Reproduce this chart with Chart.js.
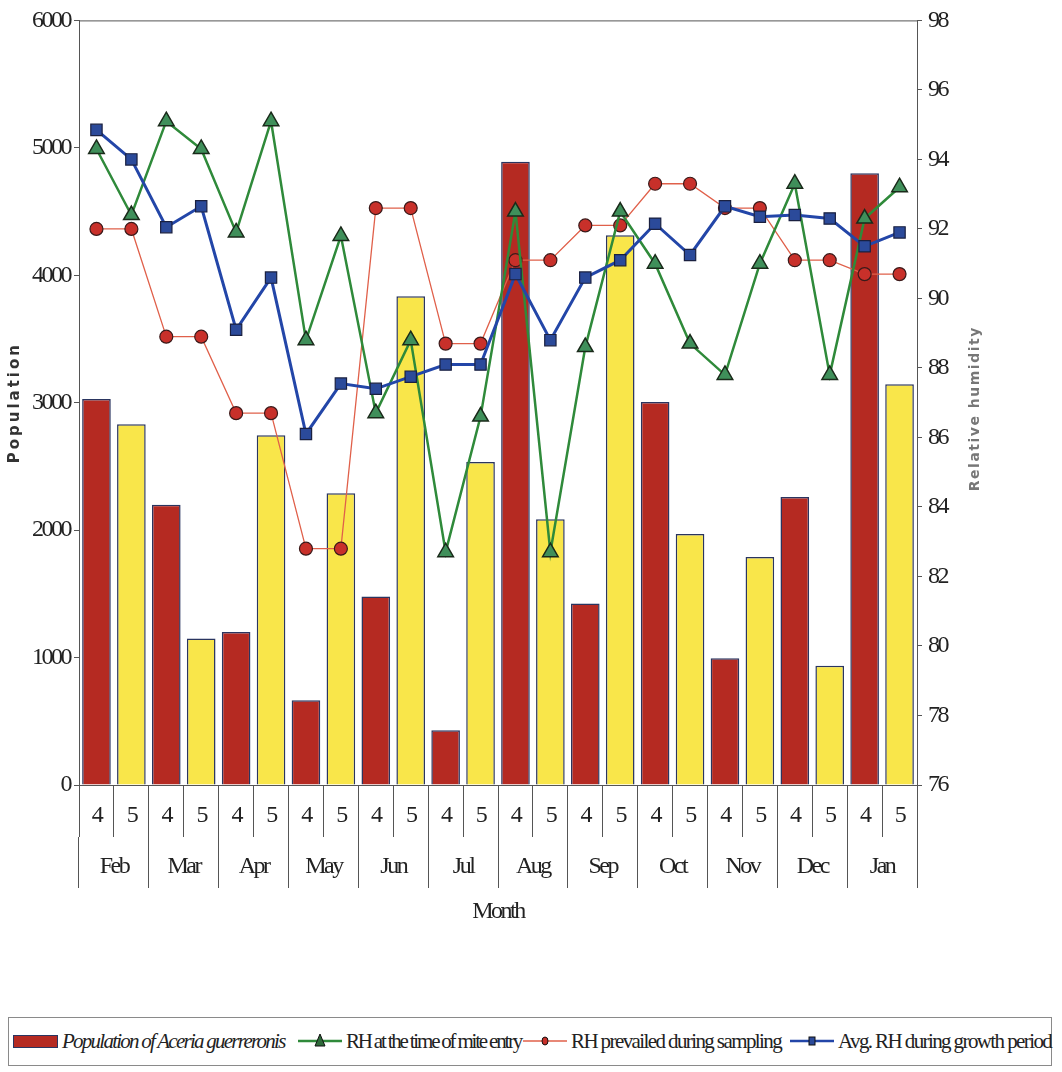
<!DOCTYPE html>
<html lang="en">
<head>
  <meta charset="UTF-8" />
  <title>Population of Aceria guerreronis and relative humidity</title>
  <script src="https://cdn.jsdelivr.net/npm/chart.js"></script>
  <style>
    body {
      margin: 0;
      background: #fff;
    }
    .chart-container {
      position: relative;
      width: 1062px;
      height: 940px;
    }
    .legend {
      position: absolute;
      left: 8px;
      top: 1017px;
      width: 1042px;
      height: 47px;
      border: 1px solid #8a8a8a;
      font-family: 'Liberation Serif', serif;
      font-size: 21px;
      letter-spacing: -1.6px;
      color: #222;
      white-space: nowrap;
    }
    .legend .item {
      position: absolute;
      top: 10px;
      display: flex;
      align-items: center;
      height: 26px;
    }
    .legend svg { margin-right: 3px; }
    .legend .swatch {
      width: 43px;
      height: 11px;
      background: #b52a22;
      border: 1px solid #2a3560;
      margin-right: 4px;
    }
  </style>
</head>
<body>
  <div class="chart-container">
    <canvas id="popChart"></canvas>
  </div>

  <div class="legend">
    <div class="item" style="left:4px; letter-spacing:-1.75px"><span class="swatch"></span><i>Population of Aceria guerreronis</i></div>
    <div class="item" style="left:288px; letter-spacing:-2.2px">
      <svg width="46" height="20"><line x1="1" y1="10" x2="45" y2="10" stroke="#2f8a3a" stroke-width="2.5"/><polygon points="23,3 28,15 18,15" fill="#2f6a3a" stroke="#111" stroke-width="1"/></svg>
      <span>RH at the time of mite entry</span>
    </div>
    <div class="item" style="left:513px">
      <svg width="46" height="20"><line x1="1" y1="10" x2="45" y2="10" stroke="#e0604a" stroke-width="1.5"/><ellipse cx="23" cy="10" rx="3" ry="4" fill="#c8302a" stroke="#111" stroke-width="1"/></svg>
      <span>RH prevailed during sampling</span>
    </div>
    <div class="item" style="left:780px">
      <svg width="46" height="20"><line x1="1" y1="10" x2="45" y2="10" stroke="#2346a8" stroke-width="2.5"/><rect x="20" y="6" width="6" height="8" fill="#2b4a9a" stroke="#111" stroke-width="1"/></svg>
      <span>Avg. RH during growth period</span>
    </div>
  </div>

  <script>
    const months = ['Feb', 'Mar', 'Apr', 'May', 'Jun', 'Jul', 'Aug', 'Sep', 'Oct', 'Nov', 'Dec', 'Jan'];
    const weeks = ['4', '5'];

    // mite population, two samplings per month
    const population = [3030, 2830, 2200, 1150, 1200, 2745, 665, 2290, 1480, 3835, 430, 2535,
                        4890, 2085, 1425, 4315, 3005, 1970, 995, 1790, 2260, 935, 4800, 3145];

    // relative humidity (%)
    const rhEntry = [94.3, 92.4, 95.1, 94.3, 91.9, 95.1, 88.8, 91.8, 86.7, 88.8, 82.7, 86.6,
                     92.5, 82.7, 88.6, 92.5, 91.0, 88.7, 87.8, 91.0, 93.3, 87.8, 92.3, 93.2];
    const rhSampling = [92.0, 92.0, 88.9, 88.9, 86.7, 86.7, 82.8, 82.8, 92.6, 92.6, 88.7, 88.7,
                        91.1, 91.1, 92.1, 92.1, 93.3, 93.3, 92.6, 92.6, 91.1, 91.1, 90.7, 90.7];
    const rhAvg = [94.85, 94.0, 92.05, 92.65, 89.1, 90.6, 86.1, 87.55, 87.4, 87.75, 88.1, 88.1,
                   90.7, 88.8, 90.6, 91.1, 92.15, 91.25, 92.65, 92.35, 92.4, 92.3, 91.5, 91.9];

    const slotLabels = months.flatMap(() => weeks);
    const barColors = slotLabels.map(w => w === '4' ? '#b52a22' : '#f9e64a');

    const serif = { family: 'Liberation Serif', size: 24 };

    // frame around plot area, condensed tick text, rotated axis titles
    const decorations = {
      id: 'decorations',
      beforeDraw(chart) {
        chart.ctx.letterSpacing = '-2.5px';
      },
      afterDraw(chart) {
        const { ctx, chartArea: a } = chart;
        ctx.save();
        ctx.strokeStyle = '#555';
        ctx.lineWidth = 1;
        ctx.strokeRect(a.left + 0.5, a.top + 0.5, a.right - a.left, a.bottom - a.top);

        ctx.letterSpacing = '3px';
        ctx.textAlign = 'center';
        ctx.textBaseline = 'middle';
        ctx.font = 'bold 15px "DejaVu Sans"';
        ctx.fillStyle = '#333';
        ctx.translate(15, (a.top + a.bottom) / 2);
        ctx.rotate(-Math.PI / 2);
        ctx.fillText('Population', 0, 0);
        ctx.restore();

        ctx.save();
        ctx.letterSpacing = '1.5px';
        ctx.textAlign = 'center';
        ctx.textBaseline = 'middle';
        ctx.font = 'bold 14px "DejaVu Sans"';
        ctx.fillStyle = '#777';
        ctx.translate(975, (a.top + a.bottom) / 2 + 6);
        ctx.rotate(-Math.PI / 2);
        ctx.fillText('Relative humidity', 0, 0);
        ctx.restore();
      }
    };

    new Chart(document.getElementById('popChart'), {
      type: 'bar',
      data: {
        labels: slotLabels,
        datasets: [
          {
            type: 'line',
            label: 'Avg. RH during growth period',
            data: rhAvg,
            yAxisID: 'y1',
            borderColor: '#2346a8',
            borderWidth: 3,
            pointStyle: 'rect',
            pointRadius: 8,
            pointBackgroundColor: '#2b4a9a',
            pointBorderColor: '#1a2040',
            pointBorderWidth: 1.2,
            tension: 0,
            order: 1
          },
          {
            type: 'line',
            label: 'RH at the time of mite entry',
            data: rhEntry,
            yAxisID: 'y1',
            borderColor: '#2f8a3a',
            borderWidth: 2.5,
            pointStyle: 'triangle',
            pointRadius: 9,
            pointBackgroundColor: '#3f8f5a',
            pointBorderColor: '#1a2a1a',
            pointBorderWidth: 1.5,
            tension: 0,
            order: 2
          },
          {
            type: 'line',
            label: 'RH prevailed during sampling',
            data: rhSampling,
            yAxisID: 'y1',
            borderColor: '#e0604a',
            borderWidth: 1.3,
            pointStyle: 'circle',
            pointRadius: 6.5,
            pointBackgroundColor: '#c8302a',
            pointBorderColor: '#3a1a1a',
            pointBorderWidth: 1.2,
            tension: 0,
            order: 3
          },
          {
            label: 'Population of Aceria guerreronis',
            data: population,
            yAxisID: 'y',
            backgroundColor: barColors,
            borderColor: '#2a3560',
            borderWidth: 1.5,
            barPercentage: 0.82,
            categoryPercentage: 1,
            order: 10
          }
        ]
      },
      options: {
        responsive: true,
        maintainAspectRatio: false,
        animation: false,
        layout: { padding: { top: 20, left: 0, right: 0, bottom: 0 } },
        plugins: {
          legend: { display: false },
          tooltip: { enabled: false }
        },
        scales: {
          x: {
            type: 'category',
            offset: true,
            grid: { drawOnChartArea: false, offset: true, tickLength: 52, color: '#555' },
            border: { display: true, color: '#555' },
            ticks: { padding: -36, font: serif, color: '#222', maxRotation: 0, autoSkip: false },
            afterFit: s => { s.height = 52; }
          },
          x2: {
            type: 'category',
            labels: months,
            position: 'bottom',
            offset: true,
            grid: { drawOnChartArea: false, offset: true, tickLength: 51, color: '#555' },
            border: { display: false },
            ticks: { padding: -36, font: serif, color: '#222', maxRotation: 0, autoSkip: false },
            title: { display: true, text: 'Month', font: serif, color: '#222', padding: { top: 10, bottom: 14 } },
            afterFit: s => { s.height = 103; }
          },
          y: {
            position: 'left',
            min: 0,
            max: 6000,
            ticks: { stepSize: 1000, font: serif, color: '#222', padding: 4, callback: v => String(v) },
            grid: { drawOnChartArea: false, tickLength: 5, color: '#555' },
            border: { color: '#555' },
            afterFit: s => { s.width = 79; }
          },
          y1: {
            position: 'right',
            min: 76,
            max: 98,
            ticks: { stepSize: 2, font: serif, color: '#222', padding: 6, callback: v => String(v) },
            grid: { drawOnChartArea: false, tickLength: 5, color: '#555' },
            border: { color: '#555' },
            afterFit: s => { s.width = 145; }
          }
        }
      },
      plugins: [decorations]
    });
  </script>
</body>
</html>
